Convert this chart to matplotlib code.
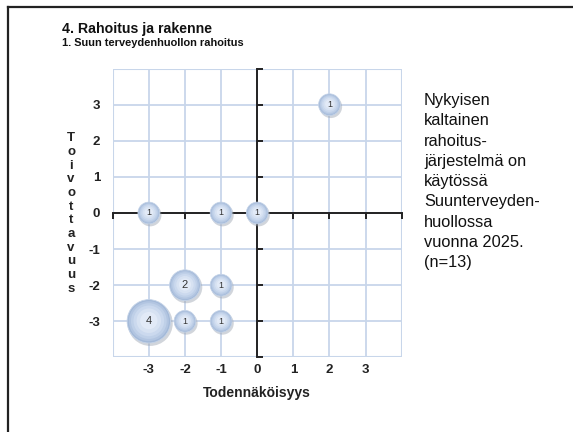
import matplotlib
matplotlib.use("Agg")
import matplotlib.pyplot as plt
from matplotlib.lines import Line2D
import matplotlib.transforms as mtransforms

# ---- data ----
x_vals = [2, -3, -1, 0, -2, -1, -3, -2, -1]
y_vals = [3, 0, 0, 0, -2, -2, -3, -3, -3]
counts = [1, 1, 1, 1, 2, 1, 4, 1, 1]
tick_vals = [-4, -3, -2, -1, 0, 1, 2, 3, 4]
tick_labels = ["", "-3", "-2", "-1", "0", "1", "2", "3", ""]
title = "4. Rahoitus ja rakenne"
subtitle = "1. Suun terveydenhuollon rahoitus"
x_label = "Todennäköisyys"
y_label = "Toivottavuus"
note = "Nykyisen\nkaltainen\nrahoitus-\njärjestelmä on\nkäytössä\nSuunterveyden-\nhuollossa\nvuonna 2025.\n(n=13)"

plt.rcParams['font.family'] = ['Liberation Sans', 'DejaVu Sans']

W, H = 573, 432
fig = plt.figure(figsize=(W / 100, H / 100), dpi=100)
ax = fig.add_axes([112.7 / W, 1 - 357.4 / H, 289.0 / W, 288.8 / H])
ax.set_xlim(-4, 4)
ax.set_ylim(-4, 4)

grid_c = "#c8d6ea"
ax.set_xticks(tick_vals)
ax.set_yticks(tick_vals)
ax.set_xticklabels(tick_labels, fontsize=9.5, fontweight='bold', color="#222222")
ax.set_yticklabels(tick_labels, fontsize=9.5, fontweight='bold', color="#222222")
ax.tick_params(length=0, pad=4.5)
ax.tick_params(axis='y', pad=9)
ax.grid(True, color=grid_c, linewidth=1.3, zorder=0)
ax.set_axisbelow(True)
for s in ax.spines.values():
    s.set_visible(False)
for v in (-4, 4):
    ax.axvline(v, color=grid_c, linewidth=1.5, zorder=0.5)
    ax.axhline(v, color=grid_c, linewidth=1.5, zorder=0.5)

# zero axes
ax.plot([-4, 4], [0, 0], color="#222222", linewidth=1.4, zorder=2, clip_on=False)
ax.plot([0, 0], [-4, 4], color="#222222", linewidth=1.4, zorder=2, clip_on=False)
ax.plot(tick_vals, [0] * len(tick_vals), linestyle='none', marker=3, markersize=4,
        markeredgewidth=1.4, color="#222222", zorder=2, clip_on=False)
ax.plot([0] * len(tick_vals), tick_vals, linestyle='none', marker=1, markersize=4,
        markeredgewidth=1.4, color="#222222", zorder=2, clip_on=False)

# bubbles
base = 244.0
sizes = [c * base for c in counts]
shadow_tr = mtransforms.offset_copy(ax.transData, fig=fig, x=1.0, y=-1.5, units='points')
ax.scatter(x_vals, y_vals, s=[s * 1.08 for s in sizes], color="#9aa3b0", alpha=0.45,
           edgecolors='none', transform=shadow_tr, zorder=3)
ax.scatter(x_vals, y_vals, s=sizes, color="#a3b9d8", edgecolors="#c4d3e8",
           linewidths=0.6, zorder=4)
layers = [(0.85, "#b2c5e1"), (0.68, "#bfd0e8"), (0.5, "#cbd9ee"), (0.32, "#d7e2f2"), (0.16, "#e2eaf7")]
for frac, col in layers:
    up_tr = mtransforms.offset_copy(ax.transData, fig=fig, x=0, y=0.6 * (1 - frac), units='points')
    ax.scatter(x_vals, y_vals, s=[s * frac for s in sizes], color=col, edgecolors='none',
               transform=up_tr, zorder=5)
for xv, yv, c in zip(x_vals, y_vals, counts):
    ax.text(xv, yv, str(c), ha='center', va='center', fontsize=6.5 if c == 1 else 8,
            color="#333333", zorder=6)

# labels
fig.text(257.3 / W, 1 - 393 / H, x_label, ha='center', va='center', fontsize=10,
         fontweight='bold', color="#222222")
fig.text(71 / W, 1 - 213.5 / H, "\n".join(y_label), ha='center', va='center', fontsize=9.5,
         fontweight='bold', color="#222222", linespacing=1.19)

fig.text(62 / W, 1 - 33 / H, title, ha='left', va='baseline', fontsize=10.2,
         fontweight='bold', color="#111111")
fig.text(62 / W, 1 - 46.5 / H, subtitle, ha='left', va='baseline', fontsize=7.9,
         fontweight='bold', color="#111111")
fig.text(424 / W, 1 - 93 / H, note, ha='left', va='top', fontsize=11.8,
         color="#111111", linespacing=1.44)

# outer frame (top and left)
fig.add_artist(Line2D([8 / W, 8 / W], [0, 1 - 6.5 / H], color="#222222", linewidth=1.6,
                      transform=fig.transFigure))
fig.add_artist(Line2D([8 / W, 1], [1 - 6.5 / H, 1 - 6.5 / H], color="#222222", linewidth=1.6,
                      transform=fig.transFigure))

fig.savefig("out.png", dpi=100)
